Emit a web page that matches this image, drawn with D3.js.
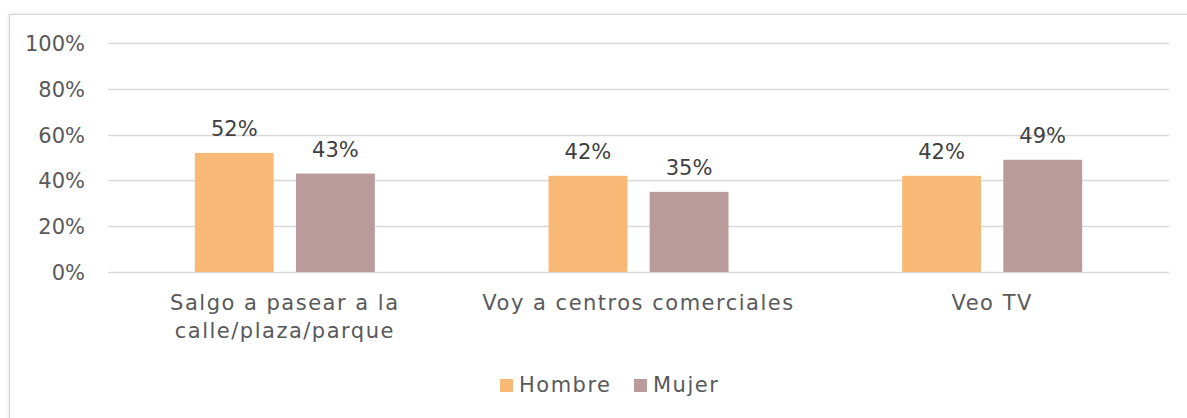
<!DOCTYPE html>
<html>
<head>
<meta charset="utf-8">
<script src="https://cdn.jsdelivr.net/npm/d3@7"></script>
<style>
  body { margin: 0; background: #fff; }
  svg { display: block; font-family: "DejaVu Sans", sans-serif; }
</style>
</head>
<body>
<svg id="chart" width="1187" height="418"></svg>
<script>
const categories = [['Salgo a pasear a la', 'calle/plaza/parque'], ['Voy a centros comerciales'], ['Veo TV']]
const series = ['Hombre', 'Mujer']
const hombre = [0.52, 0.42, 0.42]
const mujer = [0.43, 0.35, 0.49]
const yTicks = [0, 0.2, 0.4, 0.6, 0.8, 1]
const colors = ['#F9B976', '#B99B9C']

const values = [hombre, mujer]
const svg = d3.select('#chart')

const defs = svg.append('defs')
const shadow = defs.append('filter').attr('id', 'shadow')
  .attr('x', '-5%').attr('y', '-20%').attr('width', '110%').attr('height', '140%')
shadow.append('feDropShadow')
  .attr('dx', 0).attr('dy', 0).attr('stdDeviation', 2)
  .attr('flood-color', '#000').attr('flood-opacity', 0.12)

svg.append('rect')
  .attr('x', 9.5).attr('y', 14.5)
  .attr('width', 1200).attr('height', 420)
  .attr('fill', '#fff')
  .attr('stroke', '#d4d4d4')
  .attr('filter', 'url(#shadow)')

const x = d3.scaleBand()
  .domain(d3.range(categories.length))
  .range([108, 1169])

const x1 = d3.scaleBand()
  .domain(series)
  .range([0, 180])
  .paddingInner(0.22)

const y = d3.scaleLinear().domain([0, 1]).range([272, 43])

// gridlines
svg.append('g')
  .selectAll('line')
  .data(yTicks)
  .join('line')
  .attr('x1', 108).attr('x2', 1169)
  .attr('y1', d => Math.round(y(d)) + 0.5)
  .attr('y2', d => Math.round(y(d)) + 0.5)
  .attr('stroke', '#d9d9d9')
  .attr('stroke-width', 1.5)

// y axis labels
svg.append('g')
  .selectAll('text')
  .data(yTicks)
  .join('text')
  .attr('x', 85)
  .attr('y', d => y(d) + 8)
  .attr('text-anchor', 'end')
  .attr('font-size', 21)
  .attr('fill', '#595959')
  .text(d3.format('.0%'))

// bars
const groups = svg.append('g')
  .selectAll('g')
  .data(categories.map((c, i) => i))
  .join('g')
  .attr('transform', i => `translate(${x(i) + x.bandwidth() / 2 - 90},0)`)

groups.selectAll('rect')
  .data(i => series.map((s, j) => ({ s, j, v: values[j][i] })))
  .join('rect')
  .attr('x', d => x1(d.s))
  .attr('width', x1.bandwidth())
  .attr('y', d => y(d.v))
  .attr('height', d => y(0) - y(d.v))
  .attr('fill', d => colors[d.j])

groups.selectAll('text')
  .data(i => series.map((s, j) => ({ s, j, v: values[j][i] })))
  .join('text')
  .attr('x', d => x1(d.s) + x1.bandwidth() / 2)
  .attr('y', d => y(d.v) - 17)
  .attr('text-anchor', 'middle')
  .attr('font-size', 21)
  .attr('fill', '#404040')
  .text(d => d3.format('.0%')(d.v))

// category labels
svg.append('g')
  .selectAll('text')
  .data(categories)
  .join('text')
  .attr('x', (d, i) => x(i) + x.bandwidth() / 2)
  .attr('y', 310)
  .attr('text-anchor', 'middle')
  .attr('font-size', 21)
  .attr('letter-spacing', 1.5)
  .attr('fill', '#595959')
  .selectAll('tspan')
  .data(d => d)
  .join('tspan')
  .attr('x', function () { return this.parentNode.getAttribute('x') })
  .attr('dy', (d, k) => k === 0 ? 0 : 28)
  .text(d => d)

// legend
const legendX = [500, 634]
const legend = svg.append('g')
  .selectAll('g')
  .data(series)
  .join('g')
  .attr('transform', (d, i) => `translate(${legendX[i]},379)`)

legend.append('rect')
  .attr('width', 13).attr('height', 13)
  .attr('fill', (d, i) => colors[i])

legend.append('text')
  .attr('x', 19).attr('y', 13)
  .attr('font-size', 21)
  .attr('letter-spacing', 1.5)
  .attr('fill', '#595959')
  .text(d => d)
</script>
</body>
</html>
